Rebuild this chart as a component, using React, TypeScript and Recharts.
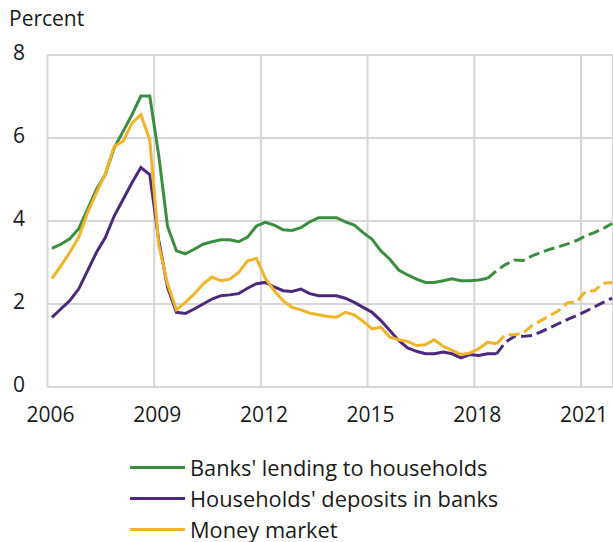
import { LineChart, Line, XAxis, YAxis, CartesianGrid } from 'recharts'

// quarterly, 2006Q1 .. 2021Q4
const START_YEAR = 2006
const lending = [
  3.34, 3.44, 3.57, 3.81,
  4.28, 4.76, 5.12, 5.76,
  6.16, 6.56, 7.01, 7.01,
  5.6, 3.87, 3.28, 3.21,
  3.32, 3.44, 3.5, 3.55,
  3.55, 3.5, 3.61, 3.88,
  3.97, 3.9, 3.79, 3.77,
  3.84, 3.98, 4.08, 4.08,
  4.08, 3.98, 3.9, 3.72,
  3.56, 3.28, 3.08, 2.82,
  2.7, 2.6, 2.52, 2.52,
  2.56, 2.61, 2.56, 2.56,
  2.58, 2.62, 2.8, 2.95,
  3.06, 3.05, 3.16, 3.24,
  3.32, 3.38, 3.45, 3.53,
  3.64, 3.72, 3.82, 3.94,
]
const deposits = [
  1.68, 1.88, 2.08, 2.36,
  2.8, 3.24, 3.6, 4.12,
  4.52, 4.92, 5.29, 5.12,
  3.55, 2.4, 1.8, 1.77,
  1.88, 2.0, 2.12, 2.2,
  2.22, 2.25, 2.38, 2.49,
  2.52, 2.41, 2.32, 2.3,
  2.36, 2.25, 2.2, 2.2,
  2.2, 2.14, 2.04, 1.92,
  1.8, 1.6, 1.36, 1.12,
  0.94, 0.86, 0.8, 0.8,
  0.84, 0.8, 0.7, 0.78,
  0.76, 0.8, 0.8, 1.08,
  1.22, 1.22, 1.24, 1.33,
  1.43, 1.53, 1.63, 1.72,
  1.82, 1.93, 2.04, 2.14,
]
const moneyMarket = [
  2.61, 2.92, 3.24, 3.6,
  4.2, 4.68, 5.14, 5.8,
  5.92, 6.36, 6.56, 5.96,
  3.44, 2.48, 1.86, 2.04,
  2.24, 2.48, 2.65, 2.56,
  2.6, 2.76, 3.04, 3.1,
  2.62, 2.32, 2.08, 1.92,
  1.86, 1.78, 1.74, 1.7,
  1.68, 1.8, 1.74, 1.58,
  1.4, 1.44, 1.2, 1.14,
  1.1, 1.0, 1.02, 1.14,
  0.98, 0.88, 0.78, 0.82,
  0.92, 1.08, 1.04, 1.26,
  1.26, 1.3, 1.48, 1.6,
  1.72, 1.84, 2.03, 2.05,
  2.3, 2.32, 2.5, 2.52,
]
// last observed quarter (index); projections start there
const lendingLast = 49   // 2018Q2
const otherLast = 50     // 2018Q3

const xTicks = [2006, 2009, 2012, 2015, 2018, 2021]
const yTicks = [0, 2, 4, 6, 8]

const GREEN = '#3b8e3f'
const PURPLE = '#4b2a7d'
const YELLOW = '#f0b429'

const legendItems = [
  { label: "Banks' lending to households", color: GREEN },
  { label: "Households' deposits in banks", color: PURPLE },
  { label: 'Money market', color: YELLOW },
]

const data = lending.map((_, i) => ({
  x: START_YEAR + 0.125 + i * 0.25,
  lendA: i <= lendingLast ? lending[i] : null,
  lendF: i >= lendingLast ? lending[i] : null,
  depA: i <= otherLast ? deposits[i] : null,
  depF: i >= otherLast ? deposits[i] : null,
  mmA: i <= otherLast ? moneyMarket[i] : null,
  mmF: i >= otherLast ? moneyMarket[i] : null,
}))

const tickStyle = { fill: '#1a1a1a', fontSize: 21, fontFamily: 'Open Sans' }

export default function App() {
  return (
    <div style={{ position: 'absolute', left: 0, top: 0, width: 613, height: 542, background: '#fff', fontFamily: 'Open Sans', overflow: 'hidden' }}>
      <div style={{ position: 'absolute', left: 9, top: 4, fontSize: 21, color: '#1a1a1a' }}>Percent</div>

      <LineChart width={613} height={440} data={data} margin={{ top: 55, right: 0, left: 0, bottom: 13 }}>
        <CartesianGrid stroke="#d6d6d6" strokeWidth={2} />
        <XAxis
          dataKey="x"
          type="number"
          domain={[2006, 2021.9]}
          ticks={xTicks}
          allowDataOverflow
          axisLine={false}
          tickLine={false}
          tickSize={0}
          tickMargin={20}
          height={40}
          tick={tickStyle}
          dx={3}
        />
        <YAxis
          domain={[0, 8]}
          ticks={yTicks}
          axisLine={false}
          tickLine={false}
          tickSize={0}
          tickMargin={22.5}
          width={47.5}
          tick={tickStyle}
          dy={-2}
        />
        <Line dataKey="lendA" stroke={GREEN} strokeWidth={3} dot={false} isAnimationActive={false} />
        <Line dataKey="lendF" stroke={GREEN} strokeWidth={3} strokeDasharray="11 5" dot={false} isAnimationActive={false} />
        <Line dataKey="depA" stroke={PURPLE} strokeWidth={3} dot={false} isAnimationActive={false} />
        <Line dataKey="depF" stroke={PURPLE} strokeWidth={3} strokeDasharray="11 5" dot={false} isAnimationActive={false} />
        <Line dataKey="mmA" stroke={YELLOW} strokeWidth={3} dot={false} isAnimationActive={false} />
        <Line dataKey="mmF" stroke={YELLOW} strokeWidth={3} strokeDasharray="11 5" dot={false} isAnimationActive={false} />
      </LineChart>

      <div style={{ position: 'absolute', left: 130, top: 452 }}>
        {legendItems.map(d => (
          <div key={d.label} style={{ display: 'flex', alignItems: 'center', height: 31, fontSize: 21.8, lineHeight: '24px', color: '#1a1a1a' }}>
            <span style={{ display: 'inline-block', width: 55, height: 3, background: d.color, marginRight: 5 }} />
            {d.label}
          </div>
        ))}
      </div>
    </div>
  )
}
